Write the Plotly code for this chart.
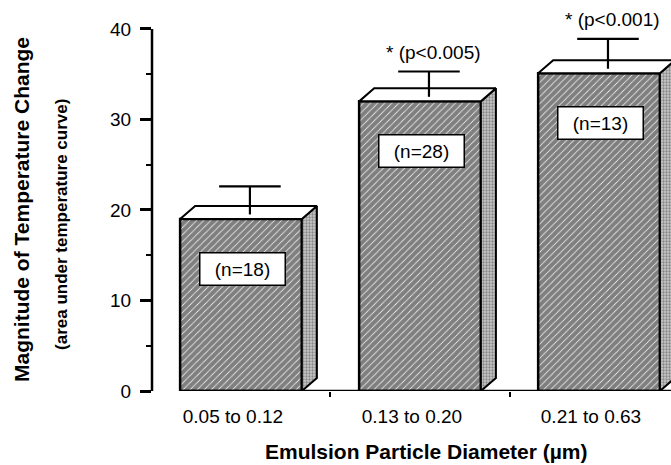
import plotly.graph_objects as go

# data
categories = ["0.05 to 0.12", "0.13 to 0.20", "0.21 to 0.63"]
means = [19.0, 32.0, 35.1]
sem = [3.6, 3.3, 3.8]
n_labels = ["(n=18)", "(n=28)", "(n=13)"]
p_labels = ["", "* (p<0.005)", "* (p<0.001)"]

FONT = "Liberation Sans, Arial, Helvetica, sans-serif"
xs = list(range(len(categories)))
w = 0.68      # bar width (x units)
dx = 0.084    # 3d depth, x
dy = 1.44     # 3d depth, y

fig = go.Figure()

fig.add_trace(go.Bar(
    x=xs, y=means, width=w,
    marker=dict(color="white", line=dict(color="black", width=2.5),
                pattern=dict(shape="/", fgcolor="black", bgcolor="white",
                             size=5, solidity=0.85)),
    showlegend=False, hoverinfo="skip",
))

# 3d side and top faces
for x, v in zip(xs, means):
    L, R = x - w / 2, x + w / 2
    fig.add_trace(go.Scatter(
        x=[R, R + dx, R + dx, R, R], y=[0, dy, v + dy, v, 0],
        mode="lines", fill="toself", line=dict(color="black", width=2),
        fillcolor="white",
        fillpattern=dict(shape=".", fgcolor="#444", bgcolor="#c8c8c8",
                         size=3, solidity=0.45),
        showlegend=False, hoverinfo="skip",
    ))
    fig.add_trace(go.Scatter(
        x=[L, R, R + dx, L + dx, L], y=[v, v, v + dy, v + dy, v],
        mode="lines", fill="toself", fillcolor="white",
        line=dict(color="black", width=2),
        showlegend=False, hoverinfo="skip",
    ))

# error bars (upper only, drawn from inside the top face)
ex, ey = [], []
for x, v, e in zip(xs, means, sem):
    c = x + 0.05
    ex += [c, c, None, c - 0.172, c + 0.172, None]
    ey += [v + 0.35 * dy, v + e, None, v + e, v + e, None]
fig.add_trace(go.Scatter(x=ex, y=ey, mode="lines",
                         line=dict(color="black", width=2.2),
                         showlegend=False, hoverinfo="skip"))

annotations = []
for x, v, e, n, p in zip(xs, means, sem, n_labels, p_labels):
    annotations.append(dict(
        x=x + 0.01, y=v - 5.5, xref="x", yref="y", text=n, showarrow=False,
        font=dict(family=FONT, size=19, color="black"),
        bgcolor="white", bordercolor="black", borderwidth=1.5, borderpad=4,
        width=76, height=23,
    ))
    if p:
        annotations.append(dict(
            x=x + 0.073, y=v + e + 2.1, xref="x", yref="y", text=p,
            showarrow=False, yanchor="middle",
            font=dict(family=FONT, size=19, color="black"),
        ))

annotations += [
    dict(x=0, xshift=-130, y=0.463, xref="paper", yref="paper",
         xanchor="center", yanchor="middle",
         text="<b>Magnitude of Temperature Change</b>", textangle=-90,
         showarrow=False, font=dict(family=FONT, size=21, color="black")),
    dict(x=0, xshift=-90, y=0.4246, xref="paper", yref="paper",
         xanchor="center", yanchor="middle",
         text="<b>(area under temperature curve)</b>", textangle=-90,
         showarrow=False, font=dict(family=FONT, size=17, color="black")),
    dict(x=0.528, y=-0.156, xref="paper", yref="paper",
         xanchor="center", yanchor="middle",
         text="<b>Emulsion Particle Diameter (\u00b5m)</b>",
         showarrow=False, font=dict(family=FONT, size=21, color="black")),
]

fig.update_layout(
    width=671, height=465,
    margin=dict(l=152, r=0, t=0, b=74),
    plot_bgcolor="white", paper_bgcolor="white",
    font=dict(family=FONT, size=19, color="black"),
    annotations=annotations,
    shapes=[
        dict(type="line", xref="paper", yref="y", x0=0, x1=0, y0=0, y1=40,
             line=dict(color="black", width=2.5)),
        dict(type="line", xref="x", yref="y", x0=-w / 2, x1=2.402, y0=0, y1=0,
             line=dict(color="black", width=2.5)),
    ],
)

fig.update_xaxes(
    range=[-0.497, 2.402], showgrid=False, zeroline=False, showline=False,
    tickvals=[x - 0.045 for x in xs], ticktext=categories, ticks="",
    ticklabelstandoff=12,
    minor=dict(tickvals=[0.5, 1.5], ticks="outside", ticklen=5,
               tickwidth=2, tickcolor="black"),
)
fig.update_yaxes(
    range=[0, 43.2], showgrid=False, zeroline=False, showline=False,
    tickvals=[0, 10, 20, 30, 40], ticks="outside", ticklen=11,
    tickwidth=2.5, tickcolor="black", ticklabelstandoff=5,
    minor=dict(dtick=5, ticks="outside", ticklen=5, tickwidth=2,
               tickcolor="black"),
)

fig.write_html("out.html", config={"displayModeBar": False},
               post_script="document.body.style.margin='0';")
